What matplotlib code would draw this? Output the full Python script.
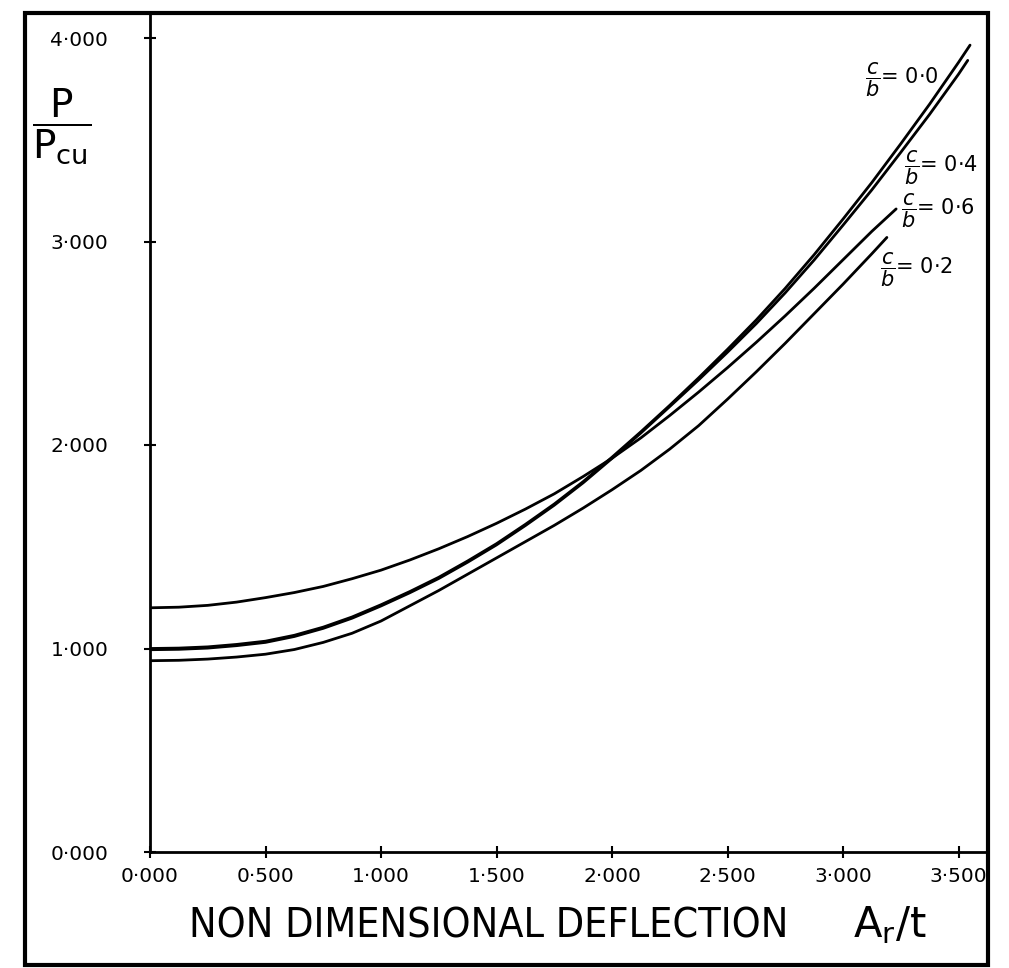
import matplotlib
matplotlib.use("Agg")
import matplotlib.pyplot as plt
from matplotlib.patches import Rectangle
from matplotlib import font_manager

# curve data (A_r/t vs P/P_cu)
x_00 = [0.0, 0.125, 0.25, 0.375, 0.5, 0.625, 0.75, 0.875, 1.0, 1.125, 1.25, 1.375, 1.5, 1.625,
        1.75, 1.875, 2.0, 2.125, 2.25, 2.375, 2.5, 2.625, 2.75, 2.875, 3.0, 3.125, 3.25, 3.375,
        3.5, 3.55]
y_00 = [1.000, 1.002, 1.008, 1.020, 1.036, 1.065, 1.105, 1.155, 1.215, 1.280, 1.350, 1.430,
        1.515, 1.610, 1.710, 1.820, 1.940, 2.065, 2.195, 2.330, 2.470, 2.615, 2.770, 2.935,
        3.110, 3.290, 3.480, 3.675, 3.880, 3.965]

x_04 = [0.0, 0.125, 0.25, 0.375, 0.5, 0.625, 0.75, 0.875, 1.0, 1.125, 1.25, 1.375, 1.5, 1.625,
        1.75, 1.875, 2.0, 2.125, 2.25, 2.375, 2.5, 2.625, 2.75, 2.875, 3.0, 3.125, 3.25, 3.375,
        3.5, 3.54]
y_04 = [0.994, 0.996, 1.002, 1.014, 1.030, 1.059, 1.099, 1.149, 1.209, 1.274, 1.344, 1.424,
        1.509, 1.604, 1.704, 1.814, 1.934, 2.059, 2.189, 2.320, 2.456, 2.597, 2.748, 2.909,
        3.080, 3.254, 3.438, 3.625, 3.822, 3.890]

x_06 = [0.0, 0.125, 0.25, 0.375, 0.5, 0.625, 0.75, 0.875, 1.0, 1.125, 1.25, 1.375, 1.5, 1.625,
        1.75, 1.875, 2.0, 2.125, 2.25, 2.375, 2.5, 2.625, 2.75, 2.875, 3.0, 3.125, 3.23]
y_06 = [1.200, 1.203, 1.212, 1.228, 1.250, 1.275, 1.305, 1.343, 1.385, 1.435, 1.490, 1.550,
        1.615, 1.685, 1.760, 1.845, 1.935, 2.035, 2.145, 2.260, 2.380, 2.505, 2.635, 2.770,
        2.910, 3.050, 3.160]

x_02 = [0.0, 0.125, 0.25, 0.375, 0.5, 0.625, 0.75, 0.875, 1.0, 1.125, 1.25, 1.375, 1.5, 1.625,
        1.75, 1.875, 2.0, 2.125, 2.25, 2.375, 2.5, 2.625, 2.75, 2.875, 3.0, 3.125, 3.19]
y_02 = [0.940, 0.942, 0.948, 0.958, 0.972, 0.995, 1.030, 1.075, 1.135, 1.210, 1.285, 1.365,
        1.445, 1.525, 1.605, 1.690, 1.780, 1.875, 1.980, 2.095, 2.225, 2.360, 2.500, 2.645,
        2.790, 2.940, 3.020]

x_ticks = [0.0, 0.5, 1.0, 1.5, 2.0, 2.5, 3.0, 3.5]
y_ticks = [0.0, 1.0, 2.0, 3.0, 4.0]
x_ticklabels = ["0·000", "0·500", "1·000", "1·500", "2·000", "2·500", "3·000", "3·500"]
y_ticklabels = ["0·000", "1·000", "2·000", "3·000", "4·000"]

W, H = 1009, 968


def fx(px):
    return px / W


def fy(py):
    return 1 - py / H


fig = plt.figure(figsize=(W / 100, H / 100), dpi=100)
ax = fig.add_axes([fx(150), fy(852), fx(988) - fx(150), fy(13) - fy(852)])

for xs, ys in [(x_00, y_00), (x_04, y_04), (x_06, y_06), (x_02, y_02)]:
    ax.plot(xs, ys, color="black", lw=2.0, solid_capstyle="round")

ax.set_xlim(0, (988 - 150) / 231)
ax.set_ylim(0, (852 - 13) / 203.5)
ax.spines["top"].set_visible(False)
ax.spines["right"].set_visible(False)
for s in ("left", "bottom"):
    ax.spines[s].set_linewidth(2.0)

ax.set_xticks(x_ticks)
ax.set_xticklabels(x_ticklabels)
ax.set_yticks(y_ticks)
ax.set_yticklabels(y_ticklabels)
ax.tick_params(axis="both", direction="inout", length=8, width=1.5, labelsize=14.5)
ax.tick_params(axis="x", pad=7)
ax.tick_params(axis="y", pad=26)

# axis titles
fig.text(fx(62), fy(126), r"$\dfrac{\mathrm{P}}{\mathrm{P}_{\mathrm{cu}}}$", fontsize=28,
         ha="center", va="center")

# narrow lettering for the long x title, if a condensed face exists
cond = font_manager.findfont(font_manager.FontProperties(family="DejaVu Sans", stretch="condensed"))
title_size = 29.5 if "Condensed" in cond else 25
fig.text(fx(489), fy(927), "NON DIMENSIONAL DEFLECTION", family="DejaVu Sans",
         stretch="condensed", fontsize=title_size, ha="center", va="center")
fig.text(fx(890), fy(925), r"$\mathrm{A_r/t}$", fontsize=30, ha="center", va="center")

# curve labels
labels = [(865, 80, "0·0"), (904, 168, "0·4"), (901, 211, "0·6"), (880, 270, "0·2")]
for px, py, val in labels:
    fig.text(fx(px), fy(py), r"$\dfrac{c}{b}$" + "= " + val, fontsize=15,
             ha="left", va="center")

# outer frame
fig.patches.append(Rectangle((fx(25), fy(965)), fx(988) - fx(25), fy(13) - fy(965),
                             transform=fig.transFigure, fill=False, lw=3, ec="black"))

fig.savefig("out.png", dpi=100)
